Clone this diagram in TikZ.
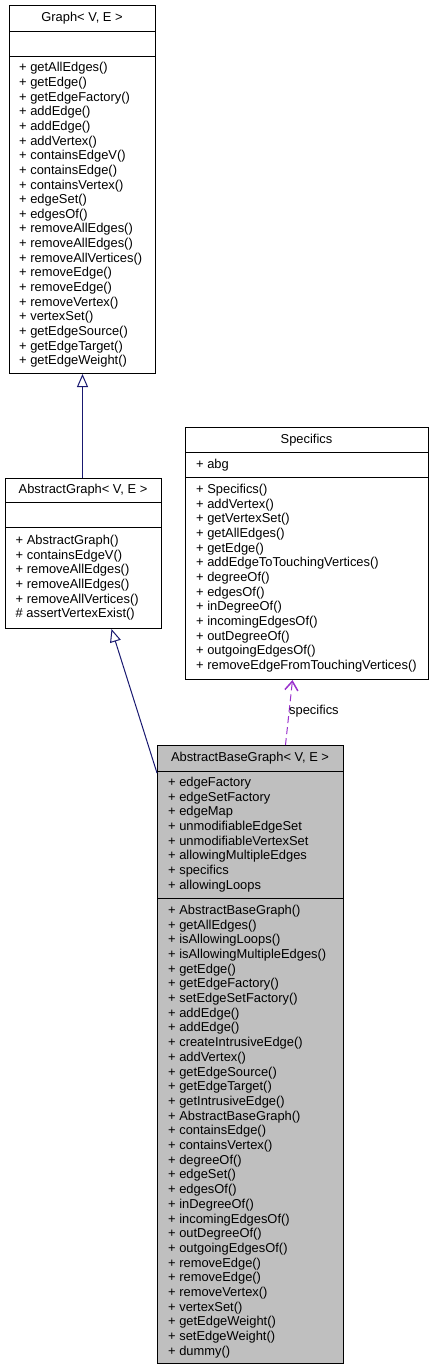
\documentclass[tikz,border=0pt]{standalone}
\usepackage{fontspec}
\setmainfont{Liberation Sans}
\usetikzlibrary{arrows.meta}
\definecolor{edgeblue}{HTML}{191970}
\definecolor{relpurple}{HTML}{9A32CD}
\definecolor{boxgray}{HTML}{BFBFBF}
\begin{document}
\begin{tikzpicture}[x=1pt,y=-1pt,
  box/.style={draw=black, line width=1pt, fill=white, rectangle, inner sep=0pt, anchor=north west},
  item/.style={anchor=base west, inner sep=0pt, font=\fontsize{12.9}{14.65}\selectfont},
  head/.style={anchor=base, inner sep=0pt, font=\fontsize{12.9}{14.65}\selectfont},
  divider/.style={draw=black, line width=1pt},
  inherit/.style={draw=edgeblue, line width=1pt, -{Triangle[open, length=13pt, width=11pt, fill=white]}},
  usage/.style={draw=relpurple, line width=1pt, dash pattern=on 7pt off 4pt, -{Straight Barb[length=9pt, width=13pt, line width=1.5pt]}}
]
\useasboundingbox (0,0) rectangle (433,1371);

% ---------- Graph< V, E >
\node[box, minimum width=146pt, minimum height=368pt] (graph) at (9,5) {};
\draw[divider] (9,31.7) -- (155,31.7);
\draw[divider] (9,56.7) -- (155,56.7);
\node[head] (graphT) at (82,21.9) {Graph< V, E >};
\foreach [count=\i] \t in {getAllEdges(), getEdge(), getEdgeFactory(), addEdge(), addEdge(), addVertex(), containsEdgeV(), containsEdge(), containsVertex(), edgeSet(), edgesOf(), removeAllEdges(), removeAllEdges(), removeAllVertices(), removeEdge(), removeEdge(), removeVertex(), vertexSet(), getEdgeSource(), getEdgeTarget(), getEdgeWeight()}
  \node[item] (gm\i) at (19,{71.8+14.65*(\i-1)}) {+ \t};

% ---------- AbstractGraph< V, E >
\node[box, minimum width=156pt, minimum height=150pt] (ag) at (5,478) {};
\draw[divider] (5,502) -- (161,502);
\draw[divider] (5,527) -- (161,527);
\node[head] (agT) at (83,493.5) {AbstractGraph< V, E >};
\foreach [count=\i] \t in {+ AbstractGraph(), + containsEdgeV(), + removeAllEdges(), + removeAllEdges(), + removeAllVertices(), \# assertVertexExist()}
  \node[item] (am\i) at (15.5,{544.5+14.65*(\i-1)}) {\t};

% ---------- Specifics
\node[box, minimum width=243pt, minimum height=252pt] (spec) at (185,427) {};
\draw[divider] (185,452) -- (428,452);
\draw[divider] (185,477) -- (428,477);
\node[head] (specT) at (306.5,443) {Specifics};
\node[item] (sa1) at (196,468) {+ abg};
\foreach [count=\i] \t in {Specifics(), addVertex(), getVertexSet(), getAllEdges(), getEdge(), addEdgeToTouchingVertices(), degreeOf(), edgesOf(), inDegreeOf(), incomingEdgesOf(), outDegreeOf(), outgoingEdgesOf(), removeEdgeFromTouchingVertices()}
  \node[item] (sm\i) at (196,{493.5+14.65*(\i-1)}) {+ \t};

% ---------- AbstractBaseGraph< V, E >
\node[box, fill=boxgray, minimum width=186pt, minimum height=618pt] (abg) at (157,745) {};
\draw[divider] (157,771) -- (343,771);
\draw[divider] (157,898.5) -- (343,898.5);
\node[head] (abgT) at (250,761.5) {AbstractBaseGraph< V, E >};
\foreach [count=\i] \t in {edgeFactory, edgeSetFactory, edgeMap, unmodifiableEdgeSet, unmodifiableVertexSet, allowingMultipleEdges, specifics, allowingLoops}
  \node[item] (ba\i) at (168,{786.5+14.65*(\i-1)}) {+ \t};
\foreach [count=\i] \t in {AbstractBaseGraph(), getAllEdges(), isAllowingLoops(), isAllowingMultipleEdges(), getEdge(), getEdgeFactory(), setEdgeSetFactory(), addEdge(), addEdge(), createIntrusiveEdge(), addVertex(), getEdgeSource(), getEdgeTarget(), getIntrusiveEdge(), AbstractBaseGraph(), containsEdge(), containsVertex(), degreeOf(), edgeSet(), edgesOf(), inDegreeOf(), incomingEdgesOf(), outDegreeOf(), outgoingEdgesOf(), removeEdge(), removeEdge(), removeVertex(), vertexSet(), getEdgeWeight(), setEdgeWeight(), dummy()}
  \node[item] (bm\i) at (168,{914.3+14.7*(\i-1)}) {+ \t};

% ---------- connectors
\draw[inherit] (graph.south |- ag.north) -- (graph.south);
\draw[inherit] ([yshift=-28pt]abg.north west) -- ([xshift=28pt]ag.south);
\draw[usage] ([xshift=35pt]abg.north) -- ([xshift=-14.5pt]spec.south);
\node[item] (lbl) at (289,714.5) {specifics};
\end{tikzpicture}
\end{document}
